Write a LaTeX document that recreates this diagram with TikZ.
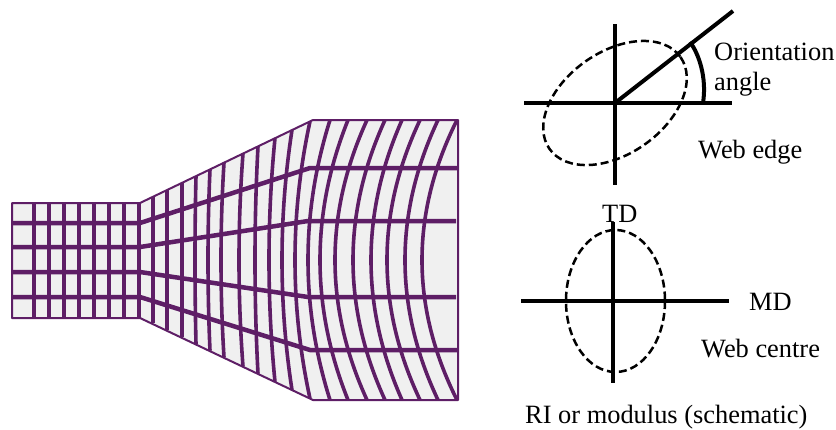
\documentclass[tikz,border=0pt]{standalone}
\usepackage{fontspec}
\setmainfont{Liberation Serif}
\definecolor{webline}{RGB}{94,30,102}
\definecolor{webfill}{RGB}{240,240,240}
\tikzset{
    weblabel/.style={anchor=base west, inner sep=0pt, font=\fontsize{26.4}{26.4}\selectfont},
    axisline/.style={line width=4pt},
    indicatrix/.style={line width=2.5pt, dash pattern=on 8pt off 4pt},
    gridline/.style={webline, line width=3.6pt},
    meshline/.style={webline, line width=4.5pt},
}

\begin{document}
\begin{tikzpicture}[x=1pt, y=-1pt]
    \useasboundingbox (0,0) rectangle (836,429);

    % Draw web outline
    \draw[webline, fill=webfill, line width=2pt, line join=round]
        (12,203) -- (140,203) -- (313,120) -- (458,120) -- (458,400) -- (313,400) -- (140,318) -- (12,318) -- cycle;

    % Draw straight columns at the inlet
    \foreach \xpos in {34,49,64,79,94,109,124,139} {
        \draw[gridline] (\xpos,203) -- (\xpos,318);
    }

    % Draw columns across the flare (top x / middle x)
    \foreach \xtop/\xmid in {153/153,167/167,182/182,196/195,210/208,224/221,243/239,258/255,275/269,292/282,310/295,
                             330/308,348/320,367/335,385/353,402/371,420/387,438/405,457/422} {
        \pgfmathsetmacro{\ytop}{\xtop<313 ? 203-(\xtop-140)*0.48 : 120}
        \pgfmathsetmacro{\ybot}{520-\ytop}
        \pgfmathsetmacro{\xctl}{\xtop+4/3*(\xmid-\xtop)}
        \pgfmathsetmacro{\yctla}{\ytop+2/3*(260-\ytop)}
        \pgfmathsetmacro{\yctlb}{\ybot+2/3*(260-\ybot)}
        \draw[gridline] (\xtop,\ytop) .. controls (\xctl,\yctla) and (\xctl,\yctlb) .. (\xtop,\ybot);
    }

    % Draw rows
    \draw[meshline] (12,223) -- (140,223) -- (310,168) -- (458,168);
    \draw[meshline] (12,247) -- (140,247) -- (308,221) -- (456,221);
    \draw[meshline] (12,272) -- (140,272) -- (308,297) -- (456,297);
    \draw[meshline] (12,297) -- (140,297) -- (310,350) -- (458,350);

    % Draw web edge axes
    \draw[axisline] (524,103) -- (732,103);
    \draw[axisline] (615,24) -- (615,185);
    \draw[axisline] (615,103) -- (733,11);
    \draw[indicatrix, rotate around={35:(615,103)}] (615,103) ellipse (80 and 51);
    \draw[line width=4pt] (690,42) .. controls (699,54) and (707,78) .. (703,103);

    % Draw web centre axes
    \draw[axisline] (521,301) -- (729,301);
    \draw[axisline] (613,222) -- (613,383);
    \draw[indicatrix] (615.5,301) ellipse (49.5 and 71);

    % Labels
    \node[weblabel] (orientation) at (714,60) {Orientation};
    \node[weblabel] (angle) at (714,90) {angle};
    \node[weblabel] (edge) at (698,158) {Web edge};
    \node[weblabel] (td) at (602,222) {TD};
    \node[weblabel] (md) at (749,310) {MD};
    \node[weblabel] (centre) at (701,357) {Web centre};
    \node[weblabel] (schematic) at (525,423) {RI or modulus (schematic)};
\end{tikzpicture}
\end{document}
